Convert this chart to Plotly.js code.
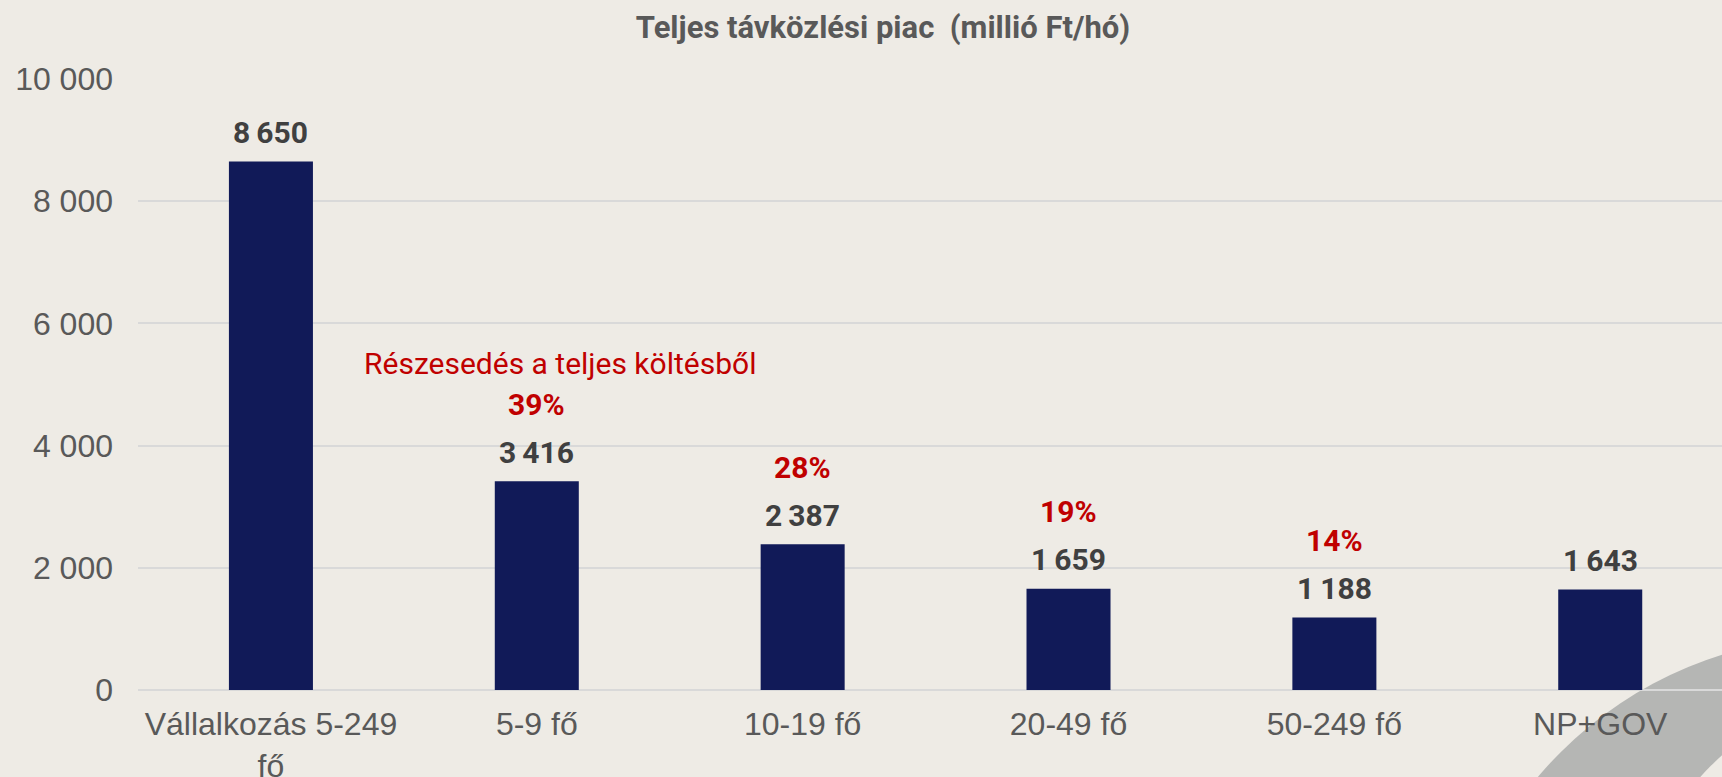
<!DOCTYPE html>
<html>
<head>
<meta charset="utf-8">
<script src="https://cdn.plot.ly/plotly-3.0.1.min.js"></script>
<style>
  html, body { margin: 0; padding: 0; background: #EEEBE5; }
  #chart { width: 1722px; height: 777px; }
</style>
</head>
<body>
<div id="chart"></div>
<script>
// ---- data ----
const categories = ["Vállalkozás 5-249<br>fő", "5-9 fő", "10-19 fő", "20-49 fő", "50-249 fő", "NP+GOV"];
const values = [8650, 3416, 2387, 1659, 1188, 1643];
const shares = [null, 39, 28, 19, 14, null];
const yTickVals = [0, 2000, 4000, 6000, 8000, 10000];
const yTickText = ["0", "2 000", "4 000", "6 000", "8 000", "10 000"];
const titleText = "Teljes távközlési piac  (millió Ft/hó)";
const shareNote = "Részesedés a teljes költésből";

function fmt(v) { return String(v).replace(/\B(?=(\d{3})+(?!\d))/g, "\u2009"); }

const BG = "#EEEBE5";
const GRID = "#D9D9D9";

const trace = {
  type: "bar",
  x: categories,
  y: values,
  marker: { color: "#111A58", line: { width: 0 } },
  hoverinfo: "skip"
};

const annotations = [];
values.forEach((v, i) => {
  annotations.push({
    x: categories[i], y: v, xref: "x", yref: "y",
    text: fmt(v), showarrow: false, yanchor: "middle", yshift: 29,
    font: { family: "Roboto, sans-serif", size: 30, color: "#404040", weight: 700 }
  });
  if (shares[i] !== null) {
    annotations.push({
      x: categories[i], y: v, xref: "x", yref: "y",
      text: shares[i] + "%", showarrow: false, yanchor: "middle", yshift: 77,
      font: { family: "Roboto, sans-serif", size: 30, color: "#C00000", weight: 700 }
    });
  }
});
annotations.push({
  x: 0.2664, y: 0.535, xref: "paper", yref: "paper",
  text: shareNote, showarrow: false, xanchor: "center", yanchor: "middle",
  font: { family: "Roboto, sans-serif", size: 30, color: "#C00000" }
});

// helper for decorative circles (pixel-sized, anchored in paper coords)
const L = 138, W = 1584, B0 = 690, H = 611;
function circle(cx, cy, r, fill) {
  return {
    type: "circle", layer: "below", xref: "paper", yref: "paper",
    xsizemode: "pixel", ysizemode: "pixel",
    xanchor: (cx - L) / W, yanchor: (B0 - cy) / H,
    x0: -r, x1: r, y0: -r, y1: r,
    fillcolor: fill, line: { width: 0 }
  };
}

const layout = {
  width: 1722, height: 777,
  paper_bgcolor: BG, plot_bgcolor: "rgba(0,0,0,0)",
  margin: { l: 138, r: 0, t: 79, b: 87, pad: 0 },
  showlegend: false,
  bargap: 0.684,
  title: {
    text: "<b>" + titleText + "</b>",
    x: (883 - 138) / 1584, xref: "paper", xanchor: "center",
    y: 1 - 27 / 777, yref: "container", yanchor: "middle",
    font: { family: "Roboto, sans-serif", size: 31, color: "#595959" }
  },
  xaxis: {
    type: "category",
    range: [-0.5, 5.458],
    showgrid: false, zeroline: false, showline: false,
    ticks: "", ticklabelstandoff: 12,
    tickfont: { family: "Liberation Sans, Arial, sans-serif", size: 32, color: "#595959" },
    fixedrange: true
  },
  yaxis: {
    range: [0, 10000],
    tickvals: yTickVals, ticktext: yTickText,
    showgrid: true, gridcolor: GRID, gridwidth: 2,
    zeroline: true, zerolinecolor: GRID, zerolinewidth: 2,
    showline: false, ticks: "", ticklabelstandoff: 24,
    tickfont: { family: "Liberation Sans, Arial, sans-serif", size: 32, color: "#595959" },
    fixedrange: true
  },
  shapes: [
    circle(1839, 1031, 394, "#B5B6B4"),
    circle(1923, 978, 300, BG)
  ],
  annotations: annotations
};

Plotly.newPlot("chart", [trace], layout, { displayModeBar: false, staticPlot: true });
</script>
</body>
</html>
